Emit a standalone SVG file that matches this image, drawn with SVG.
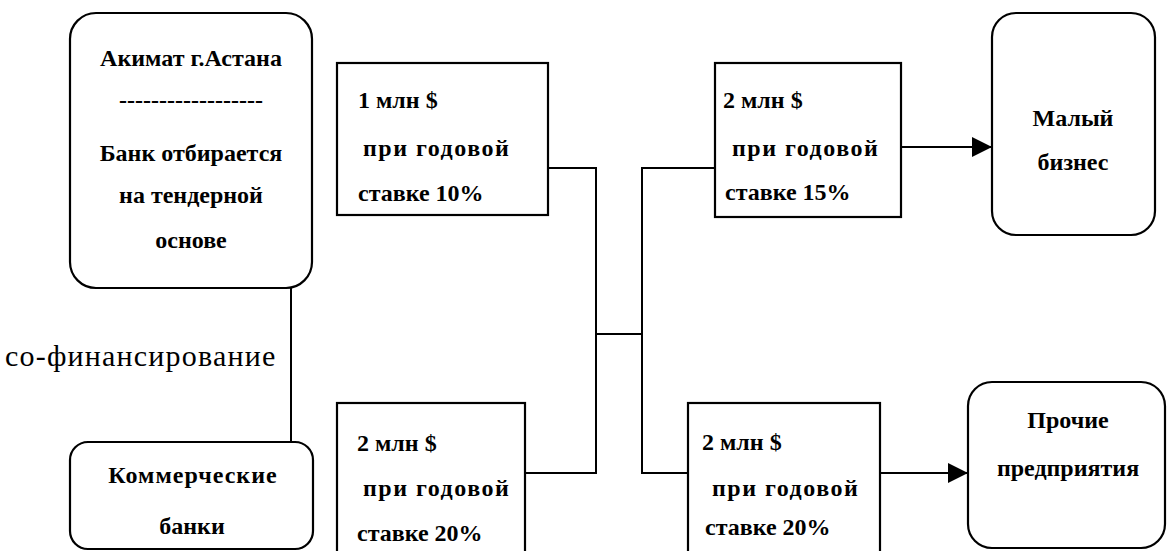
<svg xmlns="http://www.w3.org/2000/svg" width="1167" height="551" viewBox="0 0 1167 551">
<style>
.box{fill:#fff;stroke:#000;stroke-width:2.2}
.t{font-family:"Liberation Serif","Times New Roman",serif;font-size:24px;font-weight:bold;fill:#000}
.c{text-anchor:middle}
.w{letter-spacing:1.5px}
.ln{fill:none;stroke:#000;stroke-width:2}
</style>
<defs>
<marker id="ah" markerWidth="20" markerHeight="20" refX="20" refY="10" orient="auto" markerUnits="userSpaceOnUse">
<path d="M0,0 L20,10 L0,20 Z" fill="#000"/>
</marker>
</defs>
<rect width="1167" height="551" fill="#fff"/>
<g id="connectors">
<path class="ln" d="M291,288 V442"/>
<path class="ln" d="M548,168 H596 V473 H525"/>
<path class="ln" d="M596,334 H642"/>
<path class="ln" d="M715,168 H642 V473 H688"/>
<path class="ln" d="M901,147 H992" marker-end="url(#ah)"/>
<path class="ln" d="M880,473 H968" marker-end="url(#ah)"/>
</g>
<g id="akimat">
<rect class="box" x="70" y="13" width="242" height="275" rx="26"/>
<text class="t c" x="191" y="66">Акимат г.Астана</text>
<text class="t c" x="191" y="108">------------------</text>
<text class="t c" x="191" y="161">Банк отбирается</text>
<text class="t c" x="191" y="203">на тендерной</text>
<text class="t c" x="191" y="248">основе</text>
</g>
<g id="cofinancing">
<text x="5" y="366" style="font-family:'Liberation Serif','Times New Roman',serif;font-size:30px;letter-spacing:1.2px;fill:#000">со-финансирование</text>
</g>
<g id="banks">
<rect class="box" x="70" y="442" width="243" height="107" rx="18"/>
<text class="t c" x="193" y="483" style="letter-spacing:1px">Коммерческие</text>
<text class="t c" x="192" y="534">банки</text>
</g>
<g id="box1">
<rect class="box" x="337" y="63" width="211" height="152"/>
<text class="t" x="358" y="108">1 млн $</text>
<text class="t w" x="363" y="156">при годовой</text>
<text class="t" x="358" y="201">ставке 10%</text>
</g>
<g id="box2">
<rect class="box" x="337" y="403" width="188" height="160"/>
<text class="t" x="357" y="451">2 млн $</text>
<text class="t w" x="363" y="496">при годовой</text>
<text class="t" x="357" y="541">ставке 20%</text>
</g>
<g id="box3">
<rect class="box" x="715" y="63" width="186" height="154"/>
<text class="t" x="723" y="108">2 млн $</text>
<text class="t w" x="732" y="156">при годовой</text>
<text class="t" x="725" y="200">ставке 15%</text>
</g>
<g id="box4">
<rect class="box" x="688" y="403" width="192" height="160"/>
<text class="t" x="702" y="450">2 млн $</text>
<text class="t w" x="712" y="496">при годовой</text>
<text class="t" x="705" y="535">ставке 20%</text>
</g>
<g id="small-business">
<rect class="box" x="992" y="13" width="163" height="222" rx="24"/>
<text class="t c" x="1073" y="126">Малый</text>
<text class="t c" x="1073" y="170">бизнес</text>
</g>
<g id="other">
<rect class="box" x="968" y="382" width="197" height="166" rx="24"/>
<text class="t c" x="1068" y="428">Прочие</text>
<text class="t c" x="1068" y="476">предприятия</text>
</g>
</svg>
